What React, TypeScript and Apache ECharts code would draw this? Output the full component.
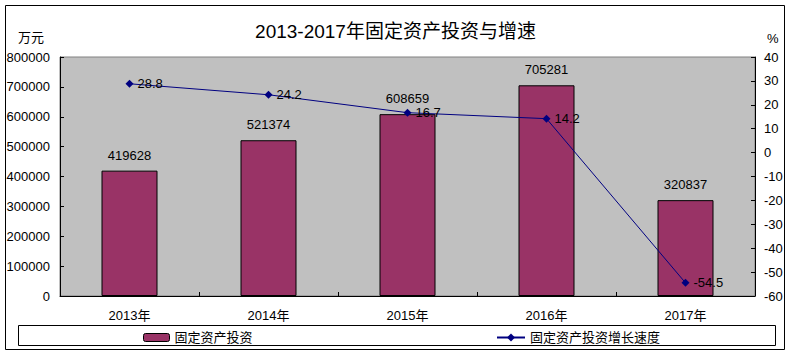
import React, { useEffect, useRef } from "react";
import * as echarts from "echarts";

const categories = ["2013年", "2014年", "2015年", "2016年", "2017年"];
const investment = [419628, 521374, 608659, 705281, 320837];
const growth = [28.8, 24.2, 16.7, 14.2, -54.5];
const title = "2013-2017年固定资产投资与增速";
const barName = "固定资产投资";
const lineName = "固定资产投资增长速度";
const leftUnit = "万元";
const rightUnit = "%";

const FONT = "'Liberation Sans', 'Noto Sans CJK SC', sans-serif";

export default function App() {
  const ref = useRef<HTMLDivElement>(null);
  useEffect(() => {
    document.body.style.margin = "0";
    const chart = echarts.init(ref.current!, null, { renderer: "svg" });
    chart.setOption({
      animation: false,
      backgroundColor: "#ffffff",
      textStyle: { fontFamily: FONT, color: "#000" },
      title: {
        text: title,
        left: "center",
        top: 17,
        textStyle: { fontFamily: FONT, fontSize: 19, fontWeight: "normal", color: "#000" },
      },
      graphic: [
        {
          type: "rect",
          shape: { x: 5.5, y: 5.5, width: 779, height: 344 },
          style: { fill: "none", stroke: "#000", lineWidth: 1 },
          silent: true,
        },
        {
          type: "rect",
          shape: { x: 18.5, y: 325.5, width: 757, height: 20 },
          style: { fill: "none", stroke: "#000", lineWidth: 1 },
          silent: true,
        },
        {
          type: "text",
          x: 18,
          y: 31,
          style: { text: leftUnit, font: `13px ${FONT}`, fill: "#000" },
        },
        {
          type: "text",
          x: 767,
          y: 32,
          style: { text: rightUnit, font: `13px ${FONT}`, fill: "#000" },
        },
      ],
      legend: [
        {
          data: [{ name: barName, itemStyle: { borderColor: "#000", borderWidth: 1 } }],
          left: 138,
          top: 326,
          itemWidth: 26,
          itemHeight: 8,
          itemGap: 5,
          textStyle: { fontFamily: FONT, fontSize: 13, color: "#000" },
        },
        {
          data: [lineName],
          left: 491,
          top: 326,
          itemWidth: 28,
          itemHeight: 10,
          textStyle: { fontFamily: FONT, fontSize: 13, color: "#000" },
        },
      ],
      grid: {
        left: 60,
        right: 36,
        top: 57,
        bottom: 59,
        show: true,
        backgroundColor: "#c0c0c0",
        borderColor: "#808080",
        borderWidth: 1,
      },
      xAxis: {
        type: "category",
        data: categories,
        axisLine: { show: true, lineStyle: { color: "#000", width: 1 } },
        axisTick: { show: true, inside: true, length: 4, alignWithLabel: false, lineStyle: { color: "#000" } },
        axisLabel: { fontFamily: FONT, fontSize: 13, color: "#000", margin: 13 },
        splitLine: { show: false },
      },
      yAxis: [
        {
          type: "value",
          min: 0,
          max: 800000,
          interval: 100000,
          axisLine: { show: true, lineStyle: { color: "#000", width: 1 } },
          axisTick: { show: true, inside: true, length: 4, lineStyle: { color: "#000" } },
          axisLabel: {
            fontFamily: FONT,
            fontSize: 13,
            color: "#000",
            margin: 10,
            formatter: (v: number) => String(v),
          },
          splitLine: { show: false },
        },
        {
          type: "value",
          min: -60,
          max: 40,
          interval: 10,
          position: "right",
          axisLine: { show: true, lineStyle: { color: "#000", width: 1 } },
          axisTick: { show: true, inside: true, length: 4, lineStyle: { color: "#000" } },
          axisLabel: { fontFamily: FONT, fontSize: 13, color: "#000", margin: 9 },
          splitLine: { show: false },
        },
      ],
      series: [
        {
          name: barName,
          type: "bar",
          data: investment,
          barWidth: 56,
          itemStyle: { color: "#993366", borderColor: "#000", borderWidth: 1 },
          label: {
            show: true,
            position: "top",
            distance: 9,
            fontFamily: FONT,
            fontSize: 13,
            color: "#000",
          },
        },
        {
          name: lineName,
          type: "line",
          yAxisIndex: 1,
          data: growth,
          symbol: "diamond",
          symbolSize: 8,
          lineStyle: { color: "#000080", width: 1 },
          itemStyle: { color: "#000080" },
          label: {
            show: true,
            position: "right",
            distance: 4,
            fontFamily: FONT,
            fontSize: 13,
            color: "#000",
          },
          z: 3,
        },
      ],
    });
    return () => chart.dispose();
  }, []);
  return (
    <div
      ref={ref}
      style={{ position: "absolute", left: 0, top: 0, width: 791, height: 355 }}
    />
  );
}
